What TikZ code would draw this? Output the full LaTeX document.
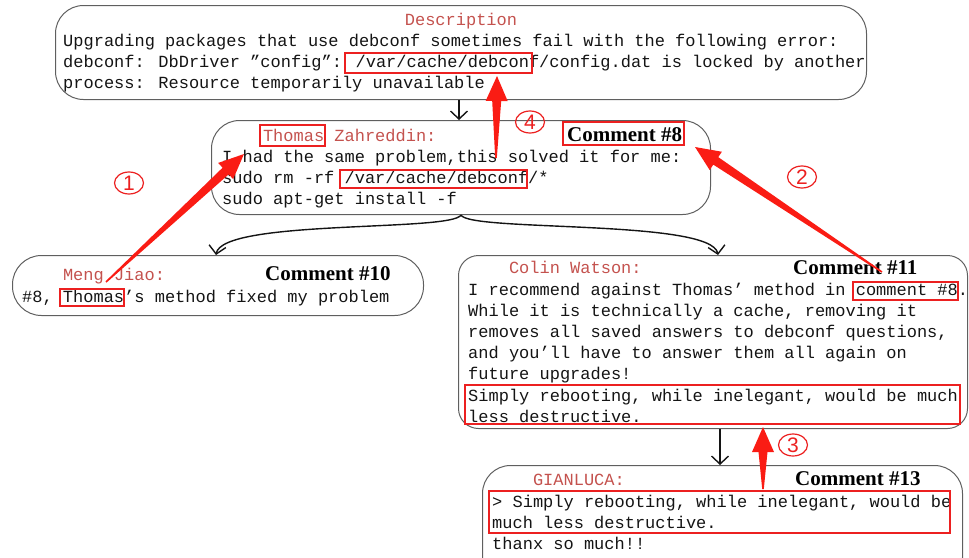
\documentclass[tikz,border=0pt]{standalone}
\usepackage{fontspec}
\setmainfont{Liberation Mono}
\newfontfamily\headfont{Liberation Serif}
\newfontfamily\digitfont{Liberation Sans}
\usetikzlibrary{arrows.meta,calc,shapes.geometric}

\definecolor{ink}{RGB}{20,20,20}
\definecolor{namered}{RGB}{196,82,78}
\definecolor{markred}{RGB}{236,32,32}
\definecolor{arrowred}{RGB}{250,28,20}
\definecolor{frame}{RGB}{95,95,95}

\newcommand\bodysize{\fontsize{17}{21.2}\selectfont}
\newcommand\lines[1]{\begin{tabular}[t]{@{}l@{}}#1\end{tabular}}

% tapered red callout arrow from #1 (thin tail) to #2 (tip)
\newcommand\callout[2]{%
  \path (#2) coordinate (tip) ($(#2)!25pt!(#1)$) coordinate (hb);
  \fill[arrowred] ($(#1)!0.8pt!90:(tip)$) -- ($(hb)!4.5pt!90:(tip)$)
    -- ($(hb)!11pt!90:(tip)$) -- (tip) -- ($(hb)!11pt!-90:(tip)$)
    -- ($(hb)!4.5pt!-90:(tip)$) -- ($(#1)!0.8pt!-90:(tip)$) -- cycle;}

\begin{document}
\begin{tikzpicture}[x=1pt,y=-1pt,
  box/.style={draw=frame,line width=1pt,anchor=north west,inner sep=0pt},
  body/.style={font=\bodysize,text=ink,anchor=base west,inner sep=0pt},
  who/.style={body,text=namered},
  cmt/.style={font=\headfont\bfseries\fontsize{21}{24}\selectfont,text=black,anchor=base west,inner sep=0pt},
  hilite/.style={draw=markred,line width=1.5pt},
  conn/.style={draw=ink,line width=1.4pt,-{Straight Barb[length=8pt,width=17pt]}},
  numcirc/.style={ellipse,draw=markred,line width=1.2pt,text=markred,
    minimum width=29pt,minimum height=22pt,inner sep=0pt,
    font=\digitfont\fontsize{21}{21}\selectfont}]
\clip (0,0) rectangle (969,557);

% comment boxes
\node[box,rounded corners=28pt,minimum width=811pt,minimum height=94pt] (desc) at (55,5) {};
\node[box,rounded corners=28pt,minimum width=499pt,minimum height=94pt] (thomas) at (211,120) {};
\node[box,rounded corners=29pt,minimum width=411pt,minimum height=60pt] (meng) at (12,255) {};
\node[box,rounded corners=20pt,minimum width=509pt,minimum height=173pt] (colin) at (458,255) {};
\node[box,rounded corners=28pt,minimum width=480pt,minimum height=120pt] (gian) at (482,465) {};

% description
\node[who,anchor=base] (dtitle) at (461,25) {Description};
\node[body] (dtext) at (63,46) {\lines{Upgrading packages that use debconf sometimes fail with the following error:\\
debconf: DbDriver "config": /var/cache/debconf/config.dat is locked by another\\
process: Resource temporarily unavailable}};

% comment 8
\node[who] (tname) at (262.8,141) {Thomas Zahreddin:};
\node[cmt] (tcmt) at (567,141) {Comment \#8};
\node[body] (ttext) at (222,162) {\lines{I had the same problem,this solved it for me:\\
sudo rm -rf /var/cache/debconf/*\\
sudo apt-get install -f}};

% comment 10
\node[who] (mname) at (62.8,280) {Meng Jiao:};
\node[cmt] (mcmt) at (265,280) {Comment \#10};
\node[body] (mtext) at (22,302) {\#8, Thomas’s method fixed my problem};

% comment 11
\node[who] (cname) at (508.8,273) {Colin Watson:};
\node[cmt] (ccmt) at (793,274) {Comment \#11};
\node[body] (ctext) at (468,295) {\lines{I recommend against Thomas’ method in comment \#8.\\
While it is technically a cache, removing it\\
removes all saved answers to debconf questions,\\
and you’ll have to answer them all again on\\
future upgrades!\\
Simply rebooting, while inelegant, would be much\\
less destructive.}};

% comment 13
\node[who] (gname) at (532.8,485) {GIANLUCA:};
\node[cmt] (gcmt) at (795,485) {Comment \#13};
\node[body] (gtext) at (492,507) {\lines{> Simply rebooting, while inelegant, would be\\
much less destructive.\\
thanx so much!!}};

% reply connectors
\draw[conn] (459,0 |- desc.south) -- (459,0 |- thomas.north);
\draw[conn] (thomas.south) .. controls (452,232) and (222,219) .. (216,0 |- meng.north);
\draw[conn] (thomas.south) .. controls (469,232) and (712,219) .. (718,0 |- colin.north);
\draw[conn] (720,0 |- colin.south) -- (720,0 |- gian.north);

% highlighted passages
\draw[hilite] (345,53) rectangle (532,73);
\draw[hilite] (260,125) rectangle (325,146);
\draw[hilite] (563,122) rectangle (684,145);
\draw[hilite] (340,170) rectangle (527,188);
\draw[hilite] (60,289) rectangle (124,306);
\draw[hilite] (853,282) rectangle (958,300);
\draw[hilite] (465,385) rectangle (960,424);
\draw[hilite] (489,491) rectangle (950,533);

% red callouts between the highlights
\coordinate (a1s) at (106,282);  \coordinate (a1e) at (244,154);
\coordinate (a2s) at (882,272);  \coordinate (a2e) at (695,147);
\coordinate (a3s) at (763,489);  \coordinate (a3e) at (763,427);
\coordinate (a4s) at (496,158);  \coordinate (a4e) at (497,76);
\callout{a1s}{a1e}
\callout{a2s}{a2e}
\callout{a3s}{a3e}
\callout{a4s}{a4e}

\node[numcirc] (n1) at (129,183) {1};
\node[numcirc] (n2) at (802,177) {2};
\node[numcirc] (n3) at (793,445) {3};
\node[numcirc] (n4) at (530,122) {4};
\end{tikzpicture}
\end{document}
